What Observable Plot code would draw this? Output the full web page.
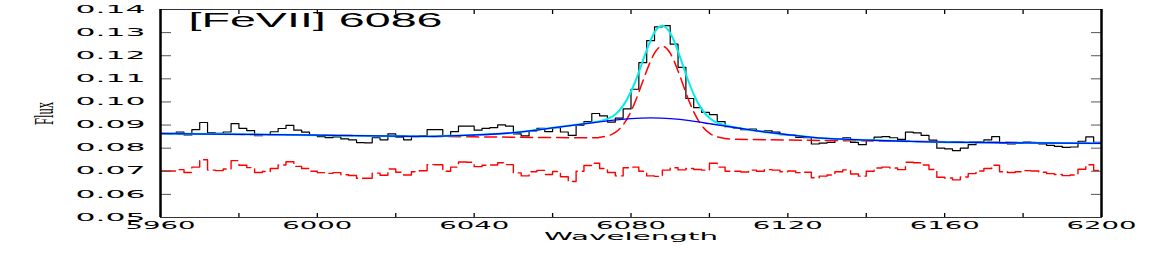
<!DOCTYPE html>
<html><head><meta charset="utf-8">
<script src="https://cdn.jsdelivr.net/npm/d3@7"></script>
<script src="https://cdn.jsdelivr.net/npm/@observablehq/plot@0.6"></script>
<style>body{margin:0;background:#fff;} svg{display:block;}</style>
</head><body><div id="chart"></div>
<script>
const title = "[FeVII] 6086";
const xLabel = "Wavelength";
const yLabel = "Flux";
const xDomain = [5960, 6200];
const yDomain = [0.05, 0.14];
const xLabelTicks = [5960, 6000, 6040, 6080, 6120, 6160, 6200];
const xMinorTicks = [5960, 5980, 6000, 6020, 6040, 6060, 6080, 6100, 6120, 6140, 6160, 6180, 6200];
const yTicks = [0.05, 0.06, 0.07, 0.08, 0.09, 0.10, 0.11, 0.12, 0.13, 0.14];
const binStart = 5960, binWidth = 2;

// observed flux (histogram, 2 Å bins)
const flux = [
0.0864,0.0864,0.0869,0.0857,0.0880,0.0911,0.0866,0.0864,0.0870,0.0906,
0.0886,0.0876,0.0854,0.0858,0.0871,0.0885,0.0899,0.0878,0.0869,0.0856,
0.0850,0.0846,0.0849,0.0840,0.0836,0.0824,0.0823,0.0845,0.0836,0.0862,
0.0848,0.0836,0.0850,0.0853,0.0880,0.0880,0.0853,0.0872,0.0895,0.0895,
0.0878,0.0886,0.0889,0.0901,0.0895,0.0862,0.0853,0.0875,0.0886,0.0872,
0.0889,0.0870,0.0855,0.0900,0.0915,0.0950,0.0940,0.0913,0.0930,0.0970,
0.1055,0.1170,0.1265,0.1325,0.1330,0.1250,0.1150,0.1015,0.0975,0.0955,
0.0945,0.0915,0.0893,0.0888,0.0880,0.0883,0.0873,0.0875,0.0869,0.0858,
0.0857,0.0847,0.0845,0.0818,0.0822,0.0825,0.0838,0.0845,0.0825,0.0815,
0.0835,0.0848,0.0850,0.0845,0.0838,0.0869,0.0866,0.0855,0.0835,0.0800,
0.0797,0.0789,0.0800,0.0815,0.0826,0.0836,0.0850,0.0822,0.0818,0.0821,
0.0826,0.0824,0.0818,0.0812,0.0808,0.0803,0.0805,0.0830,0.0849,0.0825];

// residual, offset (red dashed histogram)
const residual = [
0.0701,0.0701,0.0707,0.0695,0.0718,0.0750,0.0705,0.0703,0.0710,0.0746,
0.0726,0.0716,0.0695,0.0699,0.0712,0.0727,0.0741,0.0721,0.0712,0.0700,
0.0694,0.0691,0.0694,0.0685,0.0682,0.0670,0.0670,0.0692,0.0683,0.0710,
0.0696,0.0684,0.0698,0.0702,0.0729,0.0728,0.0700,0.0718,0.0740,0.0739,
0.0720,0.0726,0.0727,0.0737,0.0729,0.0693,0.0680,0.0698,0.0704,0.0686,
0.0699,0.0676,0.0656,0.0700,0.0725,0.0735,0.0712,0.0695,0.0680,0.0715,
0.0718,0.0700,0.0680,0.0678,0.0705,0.0715,0.0706,0.0712,0.0708,0.0705,
0.0735,0.0718,0.0700,0.0700,0.0697,0.0705,0.0700,0.0707,0.0705,0.0698,
0.0701,0.0694,0.0696,0.0672,0.0679,0.0684,0.0698,0.0706,0.0688,0.0679,
0.0700,0.0714,0.0718,0.0714,0.0707,0.0739,0.0737,0.0727,0.0708,0.0674,
0.0671,0.0663,0.0675,0.0690,0.0701,0.0712,0.0726,0.0698,0.0695,0.0698,
0.0703,0.0701,0.0696,0.0690,0.0686,0.0681,0.0684,0.0709,0.0728,0.0704];

// total fit (cyan)
const fitWave = [5960,5980,6000,6020,6030,6040,6050,6060,6067,6070,6072,6074,6076,6078,6080,6082,6084,6086,6088,6090,6092,6094,6096,6098,6100,6102,6104,6106,6110,6115,6120,6125,6130,6140,6150,6160,6180,6200];
const fitFlux = [0.0863,0.0860,0.0856,0.0852,0.0851,0.0857,0.0867,0.0888,0.0903,0.0911,0.0917,0.0927,0.0946,0.0984,0.1045,0.1129,0.1224,0.1301,0.1330,0.1298,0.1219,0.1121,0.1033,0.0970,0.0931,0.0910,0.0899,0.0892,0.0880,0.0868,0.0858,0.0849,0.0842,0.0835,0.0830,0.0826,0.0823,0.0821];

// continuum + broad component (blue)
const broadWave = [5960,5980,6000,6020,6030,6040,6050,6060,6067,6075,6080,6085,6090,6095,6100,6105,6110,6115,6120,6125,6130,6140,6150,6160,6180,6200];
const broadFlux = [0.0863,0.0860,0.0856,0.0852,0.0851,0.0857,0.0867,0.0888,0.0903,0.0920,0.0928,0.0931,0.0928,0.0919,0.0906,0.0893,0.0880,0.0868,0.0858,0.0849,0.0842,0.0835,0.0830,0.0826,0.0823,0.0821];

// continuum + narrow component (red dashed)
const narrowWave = [5960,6000,6040,6060,6070,6072,6074,6076,6078,6080,6082,6084,6086,6088,6090,6092,6094,6096,6098,6100,6102,6104,6106,6120,6160,6200];
const narrowFlux = [0.0863,0.0856,0.0849,0.0846,0.0845,0.0847,0.0853,0.0868,0.0901,0.0959,0.1042,0.1135,0.1211,0.1241,0.1211,0.1134,0.1040,0.0957,0.0899,0.0865,0.0849,0.0842,0.0839,0.0835,0.0828,0.0821];

function histRows(values) {
  const rows = values.map((v, i) => ({x: binStart + i * binWidth, y: v}));
  rows.push({x: binStart + values.length * binWidth, y: values[values.length - 1]});
  return rows;
}
const fitRows = fitWave.map((w, i) => ({x: w, y: fitFlux[i]}));
const broadRows = broadWave.map((w, i) => ({x: w, y: broadFlux[i]}));
const narrowRows = narrowWave.map((w, i) => ({x: w, y: narrowFlux[i]}));

const chart = Plot.plot({
  width: 1170, height: 256,
  marginLeft: 160, marginRight: 69, marginTop: 9, marginBottom: 39,
  x: {domain: xDomain},
  y: {domain: yDomain},
  style: {background: "#fff"},
  marks: [
    Plot.line(histRows(residual), {x: "x", y: "y", curve: "step-after", stroke: "#ff0000", strokeWidth: 1.4, strokeDasharray: "15,5", clip: true}),
    Plot.line(histRows(flux), {x: "x", y: "y", curve: "step-after", stroke: "#000", strokeWidth: 1.2, clip: true}),
    Plot.line(narrowRows, {x: "x", y: "y", curve: "natural", stroke: "#ff0000", strokeWidth: 1.5, strokeDasharray: "12,6", clip: true}),
    Plot.line(fitRows, {x: "x", y: "y", curve: "natural", stroke: "#00eeee", strokeWidth: 2, clip: true}),
    Plot.line(broadRows, {x: "x", y: "y", curve: "natural", stroke: "#0000ff", strokeWidth: 1.3, clip: true}),
    Plot.axisY({ticks: yTicks, anchor: "left", tickSize: -11, fill: "none", stroke: "#555", label: null}),
    Plot.axisY({ticks: yTicks, anchor: "right", tickSize: -11, fill: "none", stroke: "#555", label: null}),
    Plot.axisX({ticks: xMinorTicks, anchor: "bottom", tickSize: -4, fill: "none", stroke: "#000", strokeWidth: 1.3, label: null}),
    Plot.axisX({ticks: xMinorTicks, anchor: "top", tickSize: -4, fill: "none", stroke: "#000", strokeWidth: 1.3, label: null}),
    Plot.axisY({ticks: yTicks, anchor: "left", tickSize: 0, tickPadding: 15, tickFormat: d => d.toFixed(2), fontSize: 10, fontFamily: "DejaVu Sans", label: null}),
    Plot.axisX({ticks: xLabelTicks, anchor: "bottom", tickSize: 0, tickPadding: 4, tickFormat: d => String(d), fontSize: 10, fontFamily: "DejaVu Sans", label: null}),
    Plot.frame({stroke: "#333", strokeWidth: 1}),
    Plot.ruleX(xDomain, {stroke: "#000", strokeWidth: 2.5}),
    Plot.text([title], {text: d => d, frameAnchor: "top-left", dx: 28, dy: 3, textAnchor: "start", lineAnchor: "top", fontSize: 21, fontFamily: "Liberation Sans", ariaLabel: "title"}),
    Plot.text([xLabel], {text: d => d, frameAnchor: "bottom", dy: 15, lineAnchor: "top", fontSize: 10, fontFamily: "DejaVu Sans", ariaLabel: "xlabel"}),
    Plot.text([yLabel], {text: d => d, frameAnchor: "left", dx: -116, rotate: -90, textAnchor: "middle", lineAnchor: "middle", fontSize: 28, fontFamily: "Liberation Serif", ariaLabel: "ylabel"})
  ]
});
document.getElementById("chart").appendChild(chart);

function stretchEls(els, len) {
  els.forEach(t => {
    if (!t.textContent) return;
    t.setAttribute("textLength", len);
    t.setAttribute("lengthAdjust", "spacingAndGlyphs");
  });
}
function textsFor(label) {
  const out = [];
  chart.querySelectorAll(`[aria-label="${label}"]`).forEach(el => {
    if (el.tagName.toLowerCase() === "text") out.push(el);
    else el.querySelectorAll("text").forEach(t => out.push(t));
  });
  return out;
}
function textsByContent(str) {
  return Array.from(chart.querySelectorAll("text")).filter(t => t.textContent === str);
}
stretchEls(textsFor("y-axis tick label"), 70);
stretchEls(textsFor("x-axis tick label"), 70);
stretchEls(textsByContent(title), 254);
stretchEls(textsByContent(xLabel), 174);
stretchEls(textsByContent(yLabel), 23);
</script>
</body></html>
